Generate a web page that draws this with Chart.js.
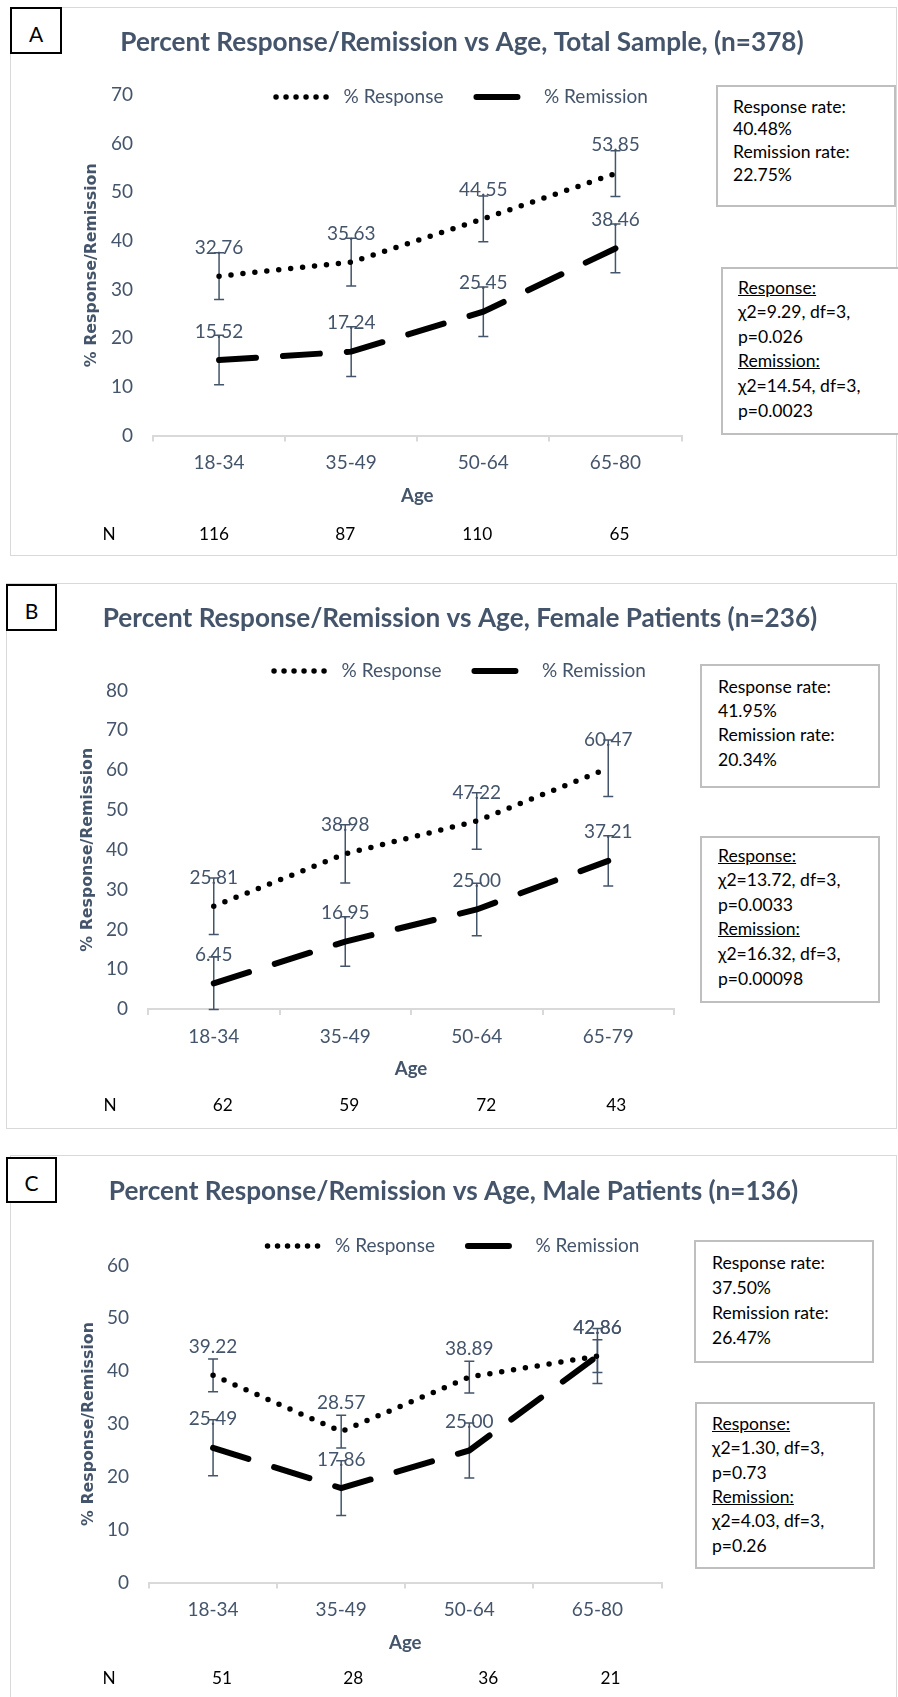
<!DOCTYPE html>
<html>
<head>
<meta charset="utf-8">
<script src="https://cdn.jsdelivr.net/npm/chart.js"></script>
<style>
  html, body { margin: 0; padding: 0; background: #fff; }
  body { position: relative; width: 898px; height: 1697px; overflow: hidden; font-family: Lato, sans-serif; }
  .panel { position: absolute; border: 1.5px solid #d9d9d9; box-sizing: border-box; }
  .tag { position: absolute; border: 2px solid #000; background: #fff; box-sizing: border-box;
         display: flex; align-items: center; justify-content: center; color: #000; padding-top: 5px; }
  .note { position: absolute; border: 2px solid #bfbfbf; background: #fff; box-sizing: border-box;
          color: #000; white-space: nowrap; }
  canvas { position: absolute; }
</style>
</head>
<body>
<script>
// ---- data ----
const agesA = ["18-34", "35-49", "50-64", "65-80"];
const respA = [32.76, 35.63, 44.55, 53.85];
const remA = [15.52, 17.24, 25.45, 38.46];
const respErrA = [4.8, 4.9, 4.7, 4.7];
const remErrA = [5.1, 5.1, 5.1, 5.0];
const nA = [116, 87, 110, 65];
const summaryA = ["Response rate:", "40.48%", "Remission rate:", "22.75%"];
const statsA = ["Response:", "χ2=9.29, df=3,", "p=0.026", "Remission:", "χ2=14.54, df=3,", "p=0.0023"];

const agesB = ["18-34", "35-49", "50-64", "65-79"];
const respB = [25.81, 38.98, 47.22, 60.47];
const remB = [6.45, 16.95, 25.00, 37.21];
const respErrB = [7.1, 7.3, 7.1, 7.1];
const remErrB = [6.6, 6.2, 6.6, 6.3];
const nB = [62, 59, 72, 43];
const summaryB = ["Response rate:", "41.95%", "Remission rate:", "20.34%"];
const statsB = ["Response:", "χ2=13.72, df=3,", "p=0.0033", "Remission:", "χ2=16.32, df=3,", "p=0.00098"];

const agesC = ["18-34", "35-49", "50-64", "65-80"];
const respC = [39.22, 28.57, 38.89, 42.86];
const remC = [25.49, 17.86, 25.00, 42.86];
const respErrC = [3.1, 3.1, 3.0, 3.1];
const remErrC = [5.3, 5.2, 5.2, 5.2];
const nC = [51, 28, 36, 21];
const summaryC = ["Response rate:", "37.50%", "Remission rate:", "26.47%"];
const statsC = ["Response:", "χ2=1.30, df=3,", "p=0.73", "Remission:", "χ2=4.03, df=3,", "p=0.26"];

const SLATE = "#44546A";
const AXIS = "#D9D9D9";

// size fonts so the text widths match the picture
const mctx = document.createElement("canvas").getContext("2d");
function fit(text, weight, family, target) {
    mctx.font = weight + " 100px " + family;
    return 100 * target / mctx.measureText(text).width;
}
const TITLE = fit("Percent Response/Remission vs Age, Total Sample, (n=378)", "bold", "Lato", 684);
const BODY = fit("% Response", "normal", "Lato", 100);
const AGE = fit("Age", "bold", "Lato", 32.6);
const NFONT = fit("116", "normal", "Lato", 30);
const NOTE = fit("Response rate:", "normal", "Lato", 113);
const YTITLE = fit("% Response/Remission", "bold", "DejaVu Sans", 204);

Chart.defaults.font.family = "Lato";

// error bars, value labels and the N row
const extras = {
    id: "extras",
    afterLayout(chart) {
        // the legend sits partly over the plot area, so do not clip it to its layout box
        if (chart.legend) chart.legend.bottom = chart.legend.top + 90;
    },
    beforeDatasetsDraw(chart) {
        const { ctx, scales: { x, y } } = chart;
        ctx.save();
        ctx.strokeStyle = SLATE;
        ctx.lineWidth = 1.5;
        chart.data.datasets.forEach(ds => {
            ds.data.forEach((v, i) => {
                const px = x.getPixelForValue(i);
                const top = y.getPixelForValue(v + ds.err[i]);
                const bot = y.getPixelForValue(v - ds.err[i]);
                ctx.beginPath();
                ctx.moveTo(px, top); ctx.lineTo(px, bot);
                ctx.moveTo(px - 5, top); ctx.lineTo(px + 5, top);
                ctx.moveTo(px - 5, bot); ctx.lineTo(px + 5, bot);
                ctx.stroke();
            });
        });
        ctx.restore();
    },
    afterDatasetsDraw(chart) {
        const { ctx, scales: { x, y } } = chart;
        ctx.save();
        ctx.fillStyle = SLATE;
        ctx.font = BODY + "px Lato";
        ctx.textAlign = "center";
        ctx.textBaseline = "middle";
        chart.data.datasets.forEach(ds => {
            ds.data.forEach((v, i) => {
                ctx.fillText(v.toFixed(2), x.getPixelForValue(i), y.getPixelForValue(v) - 28.5);
            });
        });
        ctx.restore();
    },
    afterDraw(chart, args, opts) {
        const { ctx, scales: { x } } = chart;
        ctx.save();
        ctx.fillStyle = "#000";
        ctx.font = NFONT + "px Lato";
        ctx.textAlign = "center";
        ctx.textBaseline = "middle";
        ctx.fillText("N", opts.nLabelX, opts.nY);
        opts.n.forEach((v, i) => ctx.fillText(String(v), x.getPixelForValue(i) + opts.nShift[i], opts.nY));
        ctx.restore();
    }
};

const legendDash = [[0, 10, 0, 10, 0, 10, 0, 10, 0, 10, 0, 30], [41, 100]];

function makePanel(p) {
    const frame = document.createElement("div");
    frame.className = "panel";
    Object.assign(frame.style, { left: p.frame[0] + "px", top: p.frame[1] + "px",
        width: (p.frame[2] - p.frame[0]) + "px", height: (p.frame[3] - p.frame[1]) + "px" });
    document.body.appendChild(frame);

    const cv = document.createElement("canvas");
    cv.width = p.cw; cv.height = p.ch;
    Object.assign(cv.style, { left: p.cx + "px", top: p.cy + "px", width: p.cw + "px", height: p.ch + "px" });
    document.body.appendChild(cv);

    const lhT = TITLE * 1.2;
    const tpt = p.titleY - p.cy - lhT / 2;
    const legPad = 33;
    const legendTop = p.legendY - p.cy - legPad - BODY / 2;
    const tpb = legendTop - tpt - lhT;
    const chartTop = p.plotTop - p.cy;
    const chartBottom = p.plotBottom - p.cy;
    const xAxisH = p.ageY - p.plotBottom + AGE * 1.2 / 2;
    const padBottom = p.ch - chartBottom - xAxisH;
    const xTickPad = p.xLabelY - p.plotBottom - 6 - BODY * 1.2 / 2;
    const leftW = p.plotLeft - p.cx;
    const rightW = p.cx + p.cw - p.plotRight;
    const yTitlePad = p.yTitleX - p.cx - YTITLE * 1.2 / 2;

    new Chart(cv, {
        type: "line",
        data: {
            labels: p.ages,
            datasets: [
                { label: "% Response", data: p.resp, err: p.respErr, borderColor: "#000", borderWidth: 5.5,
                  borderDash: [0, 12], borderCapStyle: "round", pointRadius: 0, fill: false, tension: 0 },
                { label: "% Remission", data: p.rem, err: p.remErr, borderColor: "#000", borderWidth: 6,
                  borderDash: [37, 27], borderCapStyle: "round", pointRadius: 0, fill: false, tension: 0 }
            ]
        },
        options: {
            responsive: false,
            animation: false,
            devicePixelRatio: 1,
            layout: { padding: { left: 0, right: 0, top: 0, bottom: padBottom } },
            plugins: {
                title: {
                    display: true, text: p.title, color: SLATE,
                    font: { family: "Lato", weight: "bold", size: TITLE, lineHeight: 1.2 },
                    padding: { top: tpt, bottom: tpb }
                },
                legend: {
                    display: true, position: "top", maxHeight: chartTop - legendTop,
                    labels: {
                        usePointStyle: true, pointStyle: "line", pointStyleWidth: 58, padding: legPad,
                        color: SLATE, font: { family: "Lato", size: BODY },
                        generateLabels: chart => chart.data.datasets.map((ds, i) => ({
                            text: ds.label, fontColor: SLATE, strokeStyle: ds.borderColor,
                            fillStyle: "rgba(0,0,0,0)", lineWidth: ds.borderWidth, lineCap: "round",
                            lineDash: legendDash[i], pointStyle: "line", hidden: false, datasetIndex: i
                        }))
                    }
                },
                tooltip: { enabled: false },
                extras: { n: p.n, nY: p.nY - p.cy, nLabelX: p.nLabelX - p.cx, nShift: p.nShift }
            },
            scales: {
                x: {
                    offset: true,
                    grid: { display: true, offset: true, drawOnChartArea: false, drawTicks: true,
                            tickLength: 6, color: AXIS, lineWidth: 2 },
                    border: { display: true, color: AXIS, width: 2 },
                    ticks: { color: SLATE, font: { family: "Lato", size: BODY }, padding: xTickPad,
                             maxRotation: 0, autoSkip: false },
                    title: { display: true, text: "Age", color: SLATE,
                             font: { family: "Lato", weight: "bold", size: AGE, lineHeight: 1.2 },
                             padding: { top: 0, bottom: 0 } },
                    afterFit: s => { s.height = xAxisH; }
                },
                y: {
                    min: 0, max: p.yMax,
                    grid: { display: false, drawTicks: false },
                    border: { display: false },
                    ticks: { stepSize: 10, color: SLATE, font: { family: "Lato", size: BODY }, padding: 20 },
                    title: { display: true, text: "% Response/Remission", color: SLATE,
                             font: { family: "DejaVu Sans", weight: "bold", size: YTITLE, lineHeight: 1.2 },
                             padding: { top: yTitlePad, bottom: 0 } },
                    afterFit: s => { s.width = leftW; }
                },
                side: {
                    type: "linear", axis: "y", position: "right", display: true,
                    grid: { display: false, drawTicks: false }, border: { display: false },
                    ticks: { display: false },
                    afterFit: s => { s.width = rightW; }
                }
            }
        },
        plugins: [extras]
    });

    const tag = document.createElement("div");
    tag.className = "tag";
    tag.textContent = p.tagText;
    Object.assign(tag.style, { left: p.tag[0] + "px", top: p.tag[1] + "px",
        width: (p.tag[2] - p.tag[0]) + "px", height: (p.tag[3] - p.tag[1]) + "px", fontSize: "21px" });
    document.body.appendChild(tag);

    p.notes.forEach(nt => {
        const d = document.createElement("div");
        d.className = "note";
        Object.assign(d.style, { left: nt.l + "px", top: nt.t + "px", width: (nt.r - nt.l) + "px",
            height: (nt.b - nt.t) + "px", fontSize: NOTE + "px", lineHeight: nt.lh + "px",
            paddingLeft: (nt.tx - nt.l - 2) + "px", paddingTop: (nt.ty - nt.t - 2 - nt.lh / 2) + "px" });
        nt.lines.forEach((s, i) => {
            const row = document.createElement("div");
            row.textContent = s;
            if (nt.under.includes(i)) row.style.textDecoration = "underline";
            d.appendChild(row);
        });
        document.body.appendChild(d);
    });
}

makePanel({
    tagText: "A", tag: [10, 7, 62, 54], frame: [10, 7, 897, 556],
    title: "Percent Response/Remission vs Age, Total Sample, (n=378)",
    ages: agesA, resp: respA, rem: remA, respErr: respErrA, remErr: remErrA, n: nA, yMax: 70,
    cx: 10, cy: 7, cw: 904, ch: 549,
    plotLeft: 153, plotRight: 681.5, plotTop: 95, plotBottom: 435.5,
    titleY: 43, legendY: 97, xLabelY: 463, ageY: 496, nY: 534, yTitleX: 92,
    nLabelX: 109, nShift: [-5, -6, -6, 4],
    notes: [
        { l: 716, t: 85, r: 896, b: 207, tx: 733, ty: 107, lh: 22.7, lines: summaryA, under: [] },
        { l: 721, t: 267, r: 900, b: 435, tx: 738, ty: 288, lh: 24.6, lines: statsA, under: [0, 3] }
    ]
});

makePanel({
    tagText: "B", tag: [6, 584, 57, 631], frame: [6, 583, 897, 1129],
    title: "Percent Response/Remission vs Age, Female Patients (n=236)",
    ages: agesB, resp: respB, rem: remB, respErr: respErrB, remErr: remErrB, n: nB, yMax: 80,
    cx: 6, cy: 583, cw: 908, ch: 546,
    plotLeft: 148, plotRight: 674, plotTop: 712, plotBottom: 1009,
    titleY: 619, legendY: 671, xLabelY: 1037, ageY: 1069, nY: 1105, yTitleX: 88,
    nLabelX: 110, nShift: [9, 4, 9.5, 8],
    notes: [
        { l: 700, t: 664, r: 880, b: 788, tx: 718, ty: 687, lh: 24.3, lines: summaryB, under: [] },
        { l: 700, t: 836, r: 880, b: 1003, tx: 718, ty: 856, lh: 24.6, lines: statsB, under: [0, 3] }
    ]
});

makePanel({
    tagText: "C", tag: [6, 1157, 57, 1203], frame: [10, 1155, 897, 1705],
    title: "Percent Response/Remission vs Age, Male Patients (n=136)",
    ages: agesC, resp: respC, rem: remC, respErr: respErrC, remErr: remErrC, n: nC, yMax: 60,
    cx: 10, cy: 1155, cw: 887, ch: 542,
    plotLeft: 149, plotRight: 661.5, plotTop: 1283, plotBottom: 1582.5,
    titleY: 1192, legendY: 1246, xLabelY: 1610, ageY: 1643, nY: 1678, yTitleX: 88.5,
    nLabelX: 109, nShift: [9, 12, 19, 13],
    notes: [
        { l: 694, t: 1240, r: 874, b: 1363, tx: 712, ty: 1262, lh: 25, lines: summaryC, under: [] },
        { l: 695, t: 1402, r: 875, b: 1569, tx: 712, ty: 1424, lh: 24.4, lines: statsC, under: [0, 3] }
    ]
});
</script>
</body>
</html>
